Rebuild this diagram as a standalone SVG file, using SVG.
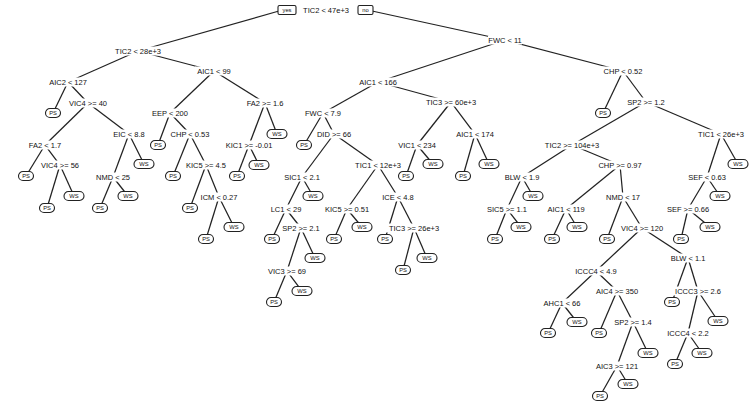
<svg xmlns="http://www.w3.org/2000/svg" width="754" height="403" viewBox="0 0 754 403">
<style>
.t{font-family:"Liberation Sans",Arial,sans-serif;font-size:7.5px;fill:#111;text-anchor:middle;dominant-baseline:central}
.s{font-family:"Liberation Sans",Arial,sans-serif;font-size:5.8px;fill:#111;text-anchor:middle;dominant-baseline:central}
.bg{fill:#fff}
.lf{fill:#fff;stroke:#222;stroke-width:1.1}
.yn{fill:#fff;stroke:#222;stroke-width:1.1}
.e line{stroke:#222;stroke-width:1.25}
</style>
<rect width="754" height="403" fill="#fff"/>
<g id="connectors" class="e">
<line x1="279" y1="11" x2="138" y2="51"/><line x1="372" y1="11" x2="505" y2="40"/>
<line x1="138" y1="51" x2="68" y2="82"/><line x1="138" y1="51" x2="214" y2="71"/>
<line x1="68" y1="82" x2="53" y2="113"/><line x1="68" y1="82" x2="88" y2="103"/>
<line x1="88" y1="103" x2="45" y2="145"/><line x1="88" y1="103" x2="129" y2="134"/>
<line x1="45" y1="145" x2="26" y2="176"/><line x1="45" y1="145" x2="60" y2="165"/>
<line x1="60" y1="165" x2="47" y2="208"/><line x1="60" y1="165" x2="74" y2="196"/>
<line x1="129" y1="134" x2="113" y2="177"/><line x1="129" y1="134" x2="144" y2="164"/>
<line x1="113" y1="177" x2="100" y2="208"/><line x1="113" y1="177" x2="128" y2="196"/>
<line x1="214" y1="71" x2="170" y2="113"/><line x1="214" y1="71" x2="265" y2="103"/>
<line x1="170" y1="113" x2="158" y2="145"/><line x1="170" y1="113" x2="190" y2="134"/>
<line x1="190" y1="134" x2="173" y2="176"/><line x1="190" y1="134" x2="206" y2="165"/>
<line x1="206" y1="165" x2="190" y2="208"/><line x1="206" y1="165" x2="219" y2="197"/>
<line x1="219" y1="197" x2="206" y2="239"/><line x1="219" y1="197" x2="234" y2="227"/>
<line x1="265" y1="103" x2="249" y2="145"/><line x1="265" y1="103" x2="277" y2="134"/>
<line x1="249" y1="145" x2="237" y2="176"/><line x1="249" y1="145" x2="259" y2="165"/>
<line x1="505" y1="40" x2="378" y2="82"/><line x1="505" y1="40" x2="623" y2="71"/>
<line x1="378" y1="82" x2="323" y2="113"/><line x1="378" y1="82" x2="451" y2="102"/>
<line x1="323" y1="113" x2="304" y2="145"/><line x1="323" y1="113" x2="334" y2="134"/>
<line x1="334" y1="134" x2="302" y2="177"/><line x1="334" y1="134" x2="378" y2="165"/>
<line x1="302" y1="177" x2="286" y2="209"/><line x1="302" y1="177" x2="313" y2="196"/>
<line x1="286" y1="209" x2="272" y2="239"/><line x1="286" y1="209" x2="301" y2="228"/>
<line x1="301" y1="228" x2="287" y2="271"/><line x1="301" y1="228" x2="315" y2="258"/>
<line x1="287" y1="271" x2="274" y2="302"/><line x1="287" y1="271" x2="302" y2="291"/>
<line x1="378" y1="165" x2="347" y2="209"/><line x1="378" y1="165" x2="398" y2="197"/>
<line x1="347" y1="209" x2="334" y2="239"/><line x1="347" y1="209" x2="362" y2="227"/>
<line x1="398" y1="197" x2="385" y2="239"/><line x1="398" y1="197" x2="414" y2="228"/>
<line x1="414" y1="228" x2="403" y2="270"/><line x1="414" y1="228" x2="427" y2="258"/>
<line x1="451" y1="102" x2="417" y2="145"/><line x1="451" y1="102" x2="475" y2="134"/>
<line x1="417" y1="145" x2="406" y2="176"/><line x1="417" y1="145" x2="433" y2="164"/>
<line x1="475" y1="134" x2="463" y2="176"/><line x1="475" y1="134" x2="489" y2="164"/>
<line x1="623" y1="71" x2="603" y2="113"/><line x1="623" y1="71" x2="646" y2="102"/>
<line x1="646" y1="102" x2="572" y2="145"/><line x1="646" y1="102" x2="721" y2="134"/>
<line x1="572" y1="145" x2="522" y2="177"/><line x1="572" y1="145" x2="620" y2="165"/>
<line x1="522" y1="177" x2="507" y2="209"/><line x1="522" y1="177" x2="533" y2="196"/>
<line x1="507" y1="209" x2="495" y2="239"/><line x1="507" y1="209" x2="521" y2="227"/>
<line x1="620" y1="165" x2="566" y2="209"/><line x1="620" y1="165" x2="623" y2="197"/>
<line x1="566" y1="209" x2="552" y2="239"/><line x1="566" y1="209" x2="577" y2="227"/>
<line x1="623" y1="197" x2="607" y2="239"/><line x1="623" y1="197" x2="642" y2="228"/>
<line x1="642" y1="228" x2="596" y2="271"/><line x1="642" y1="228" x2="688" y2="258"/>
<line x1="596" y1="271" x2="562" y2="303"/><line x1="596" y1="271" x2="617" y2="291"/>
<line x1="562" y1="303" x2="548" y2="333"/><line x1="562" y1="303" x2="577" y2="322"/>
<line x1="617" y1="291" x2="599" y2="333"/><line x1="617" y1="291" x2="633" y2="322"/>
<line x1="633" y1="322" x2="617" y2="366"/><line x1="633" y1="322" x2="648" y2="353"/>
<line x1="617" y1="366" x2="600" y2="396"/><line x1="617" y1="366" x2="628" y2="384"/>
<line x1="688" y1="258" x2="672" y2="302"/><line x1="688" y1="258" x2="698" y2="291"/>
<line x1="698" y1="291" x2="688" y2="333"/><line x1="698" y1="291" x2="718" y2="321"/>
<line x1="688" y1="333" x2="675" y2="364"/><line x1="688" y1="333" x2="702" y2="353"/>
<line x1="721" y1="134" x2="707" y2="177"/><line x1="721" y1="134" x2="738" y2="164"/>
<line x1="707" y1="177" x2="688" y2="209"/><line x1="707" y1="177" x2="720" y2="196"/>
<line x1="688" y1="209" x2="681" y2="239"/><line x1="688" y1="209" x2="710" y2="227"/>
</g>
<g id="n1"><rect class="bg" x="299" y="5.5" width="55" height="9"/><text class="t" x="326" y="10">TIC2 &lt; 47e+3</text><rect class="yn" x="278" y="5.5" width="18" height="9" rx="1.5"/><text class="s" x="287" y="10">yes</text><rect class="yn" x="358" y="5.5" width="15" height="9" rx="1.5"/><text class="s" x="365.5" y="10">no</text></g>
<g id="n2" transform="translate(138,51)"><rect class="bg" x="-25" y="-4.5" width="50" height="9"/><text class="t">TIC2 &lt; 28e+3</text></g>
<g id="n3" transform="translate(505,40)"><rect class="bg" x="-17" y="-4.5" width="34" height="9"/><text class="t">FWC &lt; 11</text></g>
<g id="n4" transform="translate(68,82)"><rect class="bg" x="-21" y="-4.5" width="42" height="9"/><text class="t">AIC2 &lt; 127</text></g>
<g id="n5" transform="translate(214,71)"><rect class="bg" x="-19" y="-4.5" width="38" height="9"/><text class="t">AIC1 &lt; 99</text></g>
<g id="n7" transform="translate(88,103)"><rect class="bg" x="-21" y="-4.5" width="42" height="9"/><text class="t">VIC4 &gt;= 40</text></g>
<g id="n8" transform="translate(45,145)"><rect class="bg" x="-19" y="-4.5" width="38" height="9"/><text class="t">FA2 &lt; 1.7</text></g>
<g id="n9" transform="translate(129,134)"><rect class="bg" x="-19" y="-4.5" width="38" height="9"/><text class="t">EIC &lt; 8.8</text></g>
<g id="n11" transform="translate(60,165)"><rect class="bg" x="-21" y="-4.5" width="42" height="9"/><text class="t">VIC4 &gt;= 56</text></g>
<g id="n14" transform="translate(113,177)"><rect class="bg" x="-17" y="-4.5" width="34" height="9"/><text class="t">NMD &lt; 25</text></g>
<g id="n18" transform="translate(170,113)"><rect class="bg" x="-19" y="-4.5" width="38" height="9"/><text class="t">EEP &lt; 200</text></g>
<g id="n19" transform="translate(265,103)"><rect class="bg" x="-21" y="-4.5" width="42" height="9"/><text class="t">FA2 &gt;= 1.6</text></g>
<g id="n21" transform="translate(190,134)"><rect class="bg" x="-21" y="-4.5" width="42" height="9"/><text class="t">CHP &lt; 0.53</text></g>
<g id="n23" transform="translate(206,165)"><rect class="bg" x="-23" y="-4.5" width="46" height="9"/><text class="t">KIC5 &gt;= 4.5</text></g>
<g id="n25" transform="translate(219,197)"><rect class="bg" x="-21" y="-4.5" width="42" height="9"/><text class="t">ICM &lt; 0.27</text></g>
<g id="n28" transform="translate(249,145)"><rect class="bg" x="-27" y="-4.5" width="54" height="9"/><text class="t">KIC1 &gt;= -0.01</text></g>
<g id="n32" transform="translate(378,82)"><rect class="bg" x="-21" y="-4.5" width="42" height="9"/><text class="t">AIC1 &lt; 166</text></g>
<g id="n33" transform="translate(623,71)"><rect class="bg" x="-21" y="-4.5" width="42" height="9"/><text class="t">CHP &lt; 0.52</text></g>
<g id="n34" transform="translate(323,113)"><rect class="bg" x="-19" y="-4.5" width="38" height="9"/><text class="t">FWC &lt; 7.9</text></g>
<g id="n35" transform="translate(451,102)"><rect class="bg" x="-29" y="-4.5" width="58" height="9"/><text class="t">TIC3 &gt;= 60e+3</text></g>
<g id="n37" transform="translate(334,134)"><rect class="bg" x="-19" y="-4.5" width="38" height="9"/><text class="t">DID &gt;= 66</text></g>
<g id="n38" transform="translate(302,177)"><rect class="bg" x="-21" y="-4.5" width="42" height="9"/><text class="t">SIC1 &lt; 2.1</text></g>
<g id="n39" transform="translate(378,165)"><rect class="bg" x="-25" y="-4.5" width="50" height="9"/><text class="t">TIC1 &lt; 12e+3</text></g>
<g id="n40" transform="translate(286,209)"><rect class="bg" x="-17" y="-4.5" width="34" height="9"/><text class="t">LC1 &lt; 29</text></g>
<g id="n43" transform="translate(301,228)"><rect class="bg" x="-21" y="-4.5" width="42" height="9"/><text class="t">SP2 &gt;= 2.1</text></g>
<g id="n44" transform="translate(287,271)"><rect class="bg" x="-21" y="-4.5" width="42" height="9"/><text class="t">VIC3 &gt;= 69</text></g>
<g id="n48" transform="translate(347,209)"><rect class="bg" x="-25" y="-4.5" width="50" height="9"/><text class="t">KIC5 &gt;= 0.51</text></g>
<g id="n49" transform="translate(398,197)"><rect class="bg" x="-18" y="-4.5" width="36" height="9"/><text class="t">ICE &lt; 4.8</text></g>
<g id="n53" transform="translate(414,228)"><rect class="bg" x="-29" y="-4.5" width="58" height="9"/><text class="t">TIC3 &gt;= 26e+3</text></g>
<g id="n56" transform="translate(417,145)"><rect class="bg" x="-21" y="-4.5" width="42" height="9"/><text class="t">VIC1 &lt; 234</text></g>
<g id="n57" transform="translate(475,134)"><rect class="bg" x="-21" y="-4.5" width="42" height="9"/><text class="t">AIC1 &lt; 174</text></g>
<g id="n63" transform="translate(646,102)"><rect class="bg" x="-21" y="-4.5" width="42" height="9"/><text class="t">SP2 &gt;= 1.2</text></g>
<g id="n64" transform="translate(572,145)"><rect class="bg" x="-30" y="-4.5" width="60" height="9"/><text class="t">TIC2 &gt;= 104e+3</text></g>
<g id="n65" transform="translate(721,134)"><rect class="bg" x="-25" y="-4.5" width="50" height="9"/><text class="t">TIC1 &lt; 26e+3</text></g>
<g id="n66" transform="translate(522,177)"><rect class="bg" x="-19" y="-4.5" width="38" height="9"/><text class="t">BLW &lt; 1.9</text></g>
<g id="n67" transform="translate(620,165)"><rect class="bg" x="-23" y="-4.5" width="46" height="9"/><text class="t">CHP &gt;= 0.97</text></g>
<g id="n68" transform="translate(507,209)"><rect class="bg" x="-23" y="-4.5" width="46" height="9"/><text class="t">SIC5 &gt;= 1.1</text></g>
<g id="n72" transform="translate(566,209)"><rect class="bg" x="-21" y="-4.5" width="42" height="9"/><text class="t">AIC1 &lt; 119</text></g>
<g id="n73" transform="translate(623,197)"><rect class="bg" x="-17" y="-4.5" width="34" height="9"/><text class="t">NMD &lt; 17</text></g>
<g id="n77" transform="translate(642,228)"><rect class="bg" x="-23" y="-4.5" width="46" height="9"/><text class="t">VIC4 &gt;= 120</text></g>
<g id="n78" transform="translate(596,271)"><rect class="bg" x="-23" y="-4.5" width="46" height="9"/><text class="t">ICCC4 &lt; 4.9</text></g>
<g id="n79" transform="translate(688,258)"><rect class="bg" x="-19" y="-4.5" width="38" height="9"/><text class="t">BLW &lt; 1.1</text></g>
<g id="n80" transform="translate(562,303)"><rect class="bg" x="-20" y="-4.5" width="40" height="9"/><text class="t">AHC1 &lt; 66</text></g>
<g id="n81" transform="translate(617,291)"><rect class="bg" x="-23" y="-4.5" width="46" height="9"/><text class="t">AIC4 &gt;= 350</text></g>
<g id="n85" transform="translate(633,322)"><rect class="bg" x="-21" y="-4.5" width="42" height="9"/><text class="t">SP2 &gt;= 1.4</text></g>
<g id="n86" transform="translate(617,366)"><rect class="bg" x="-23" y="-4.5" width="46" height="9"/><text class="t">AIC3 &gt;= 121</text></g>
<g id="n91" transform="translate(698,291)"><rect class="bg" x="-25" y="-4.5" width="50" height="9"/><text class="t">ICCC3 &gt;= 2.6</text></g>
<g id="n92" transform="translate(688,333)"><rect class="bg" x="-23" y="-4.5" width="46" height="9"/><text class="t">ICCC4 &lt; 2.2</text></g>
<g id="n96" transform="translate(707,177)"><rect class="bg" x="-21" y="-4.5" width="42" height="9"/><text class="t">SEF &lt; 0.63</text></g>
<g id="n98" transform="translate(688,209)"><rect class="bg" x="-23" y="-4.5" width="46" height="9"/><text class="t">SEF &gt;= 0.66</text></g>
<g id="n6" transform="translate(53,113)"><rect class="lf" x="-7.5" y="-4.5" width="15" height="9" rx="4.5"/><text class="s">PS</text></g>
<g id="n10" transform="translate(26,176)"><rect class="lf" x="-7.5" y="-4.5" width="15" height="9" rx="4.5"/><text class="s">PS</text></g>
<g id="n12" transform="translate(47,208)"><rect class="lf" x="-7.5" y="-4.5" width="15" height="9" rx="4.5"/><text class="s">PS</text></g>
<g id="n13" transform="translate(74,196)"><rect class="lf" x="-10" y="-4.5" width="20" height="9" rx="4.5"/><text class="s">WS</text></g>
<g id="n15" transform="translate(144,164)"><rect class="lf" x="-10" y="-4.5" width="20" height="9" rx="4.5"/><text class="s">WS</text></g>
<g id="n16" transform="translate(100,208)"><rect class="lf" x="-7.5" y="-4.5" width="15" height="9" rx="4.5"/><text class="s">PS</text></g>
<g id="n17" transform="translate(128,196)"><rect class="lf" x="-10" y="-4.5" width="20" height="9" rx="4.5"/><text class="s">WS</text></g>
<g id="n20" transform="translate(158,145)"><rect class="lf" x="-7.5" y="-4.5" width="15" height="9" rx="4.5"/><text class="s">PS</text></g>
<g id="n22" transform="translate(173,176)"><rect class="lf" x="-7.5" y="-4.5" width="15" height="9" rx="4.5"/><text class="s">PS</text></g>
<g id="n24" transform="translate(190,208)"><rect class="lf" x="-7.5" y="-4.5" width="15" height="9" rx="4.5"/><text class="s">PS</text></g>
<g id="n26" transform="translate(206,239)"><rect class="lf" x="-7.5" y="-4.5" width="15" height="9" rx="4.5"/><text class="s">PS</text></g>
<g id="n27" transform="translate(234,227)"><rect class="lf" x="-10" y="-4.5" width="20" height="9" rx="4.5"/><text class="s">WS</text></g>
<g id="n29" transform="translate(277,134)"><rect class="lf" x="-10" y="-4.5" width="20" height="9" rx="4.5"/><text class="s">WS</text></g>
<g id="n30" transform="translate(237,176)"><rect class="lf" x="-7.5" y="-4.5" width="15" height="9" rx="4.5"/><text class="s">PS</text></g>
<g id="n31" transform="translate(259,165)"><rect class="lf" x="-10" y="-4.5" width="20" height="9" rx="4.5"/><text class="s">WS</text></g>
<g id="n36" transform="translate(304,145)"><rect class="lf" x="-7.5" y="-4.5" width="15" height="9" rx="4.5"/><text class="s">PS</text></g>
<g id="n41" transform="translate(313,196)"><rect class="lf" x="-10" y="-4.5" width="20" height="9" rx="4.5"/><text class="s">WS</text></g>
<g id="n42" transform="translate(272,239)"><rect class="lf" x="-7.5" y="-4.5" width="15" height="9" rx="4.5"/><text class="s">PS</text></g>
<g id="n45" transform="translate(315,258)"><rect class="lf" x="-10" y="-4.5" width="20" height="9" rx="4.5"/><text class="s">WS</text></g>
<g id="n46" transform="translate(274,302)"><rect class="lf" x="-7.5" y="-4.5" width="15" height="9" rx="4.5"/><text class="s">PS</text></g>
<g id="n47" transform="translate(302,291)"><rect class="lf" x="-10" y="-4.5" width="20" height="9" rx="4.5"/><text class="s">WS</text></g>
<g id="n50" transform="translate(334,239)"><rect class="lf" x="-7.5" y="-4.5" width="15" height="9" rx="4.5"/><text class="s">PS</text></g>
<g id="n51" transform="translate(362,227)"><rect class="lf" x="-10" y="-4.5" width="20" height="9" rx="4.5"/><text class="s">WS</text></g>
<g id="n52" transform="translate(385,239)"><rect class="lf" x="-7.5" y="-4.5" width="15" height="9" rx="4.5"/><text class="s">PS</text></g>
<g id="n54" transform="translate(403,270)"><rect class="lf" x="-7.5" y="-4.5" width="15" height="9" rx="4.5"/><text class="s">PS</text></g>
<g id="n55" transform="translate(427,258)"><rect class="lf" x="-10" y="-4.5" width="20" height="9" rx="4.5"/><text class="s">WS</text></g>
<g id="n58" transform="translate(406,176)"><rect class="lf" x="-7.5" y="-4.5" width="15" height="9" rx="4.5"/><text class="s">PS</text></g>
<g id="n59" transform="translate(433,164)"><rect class="lf" x="-10" y="-4.5" width="20" height="9" rx="4.5"/><text class="s">WS</text></g>
<g id="n60" transform="translate(463,176)"><rect class="lf" x="-7.5" y="-4.5" width="15" height="9" rx="4.5"/><text class="s">PS</text></g>
<g id="n61" transform="translate(489,164)"><rect class="lf" x="-10" y="-4.5" width="20" height="9" rx="4.5"/><text class="s">WS</text></g>
<g id="n62" transform="translate(603,113)"><rect class="lf" x="-7.5" y="-4.5" width="15" height="9" rx="4.5"/><text class="s">PS</text></g>
<g id="n69" transform="translate(533,196)"><rect class="lf" x="-10" y="-4.5" width="20" height="9" rx="4.5"/><text class="s">WS</text></g>
<g id="n70" transform="translate(495,239)"><rect class="lf" x="-7.5" y="-4.5" width="15" height="9" rx="4.5"/><text class="s">PS</text></g>
<g id="n71" transform="translate(521,227)"><rect class="lf" x="-10" y="-4.5" width="20" height="9" rx="4.5"/><text class="s">WS</text></g>
<g id="n74" transform="translate(552,239)"><rect class="lf" x="-7.5" y="-4.5" width="15" height="9" rx="4.5"/><text class="s">PS</text></g>
<g id="n75" transform="translate(577,227)"><rect class="lf" x="-10" y="-4.5" width="20" height="9" rx="4.5"/><text class="s">WS</text></g>
<g id="n76" transform="translate(607,239)"><rect class="lf" x="-7.5" y="-4.5" width="15" height="9" rx="4.5"/><text class="s">PS</text></g>
<g id="n82" transform="translate(548,333)"><rect class="lf" x="-7.5" y="-4.5" width="15" height="9" rx="4.5"/><text class="s">PS</text></g>
<g id="n83" transform="translate(577,322)"><rect class="lf" x="-10" y="-4.5" width="20" height="9" rx="4.5"/><text class="s">WS</text></g>
<g id="n84" transform="translate(599,333)"><rect class="lf" x="-7.5" y="-4.5" width="15" height="9" rx="4.5"/><text class="s">PS</text></g>
<g id="n87" transform="translate(648,353)"><rect class="lf" x="-10" y="-4.5" width="20" height="9" rx="4.5"/><text class="s">WS</text></g>
<g id="n88" transform="translate(600,396)"><rect class="lf" x="-7.5" y="-4.5" width="15" height="9" rx="4.5"/><text class="s">PS</text></g>
<g id="n89" transform="translate(628,384)"><rect class="lf" x="-10" y="-4.5" width="20" height="9" rx="4.5"/><text class="s">WS</text></g>
<g id="n90" transform="translate(672,302)"><rect class="lf" x="-7.5" y="-4.5" width="15" height="9" rx="4.5"/><text class="s">PS</text></g>
<g id="n93" transform="translate(718,321)"><rect class="lf" x="-10" y="-4.5" width="20" height="9" rx="4.5"/><text class="s">WS</text></g>
<g id="n94" transform="translate(675,364)"><rect class="lf" x="-7.5" y="-4.5" width="15" height="9" rx="4.5"/><text class="s">PS</text></g>
<g id="n95" transform="translate(702,353)"><rect class="lf" x="-10" y="-4.5" width="20" height="9" rx="4.5"/><text class="s">WS</text></g>
<g id="n97" transform="translate(738,164)"><rect class="lf" x="-10" y="-4.5" width="20" height="9" rx="4.5"/><text class="s">WS</text></g>
<g id="n99" transform="translate(720,196)"><rect class="lf" x="-10" y="-4.5" width="20" height="9" rx="4.5"/><text class="s">WS</text></g>
<g id="n100" transform="translate(681,239)"><rect class="lf" x="-7.5" y="-4.5" width="15" height="9" rx="4.5"/><text class="s">PS</text></g>
<g id="n101" transform="translate(710,227)"><rect class="lf" x="-10" y="-4.5" width="20" height="9" rx="4.5"/><text class="s">WS</text></g>
</svg>
